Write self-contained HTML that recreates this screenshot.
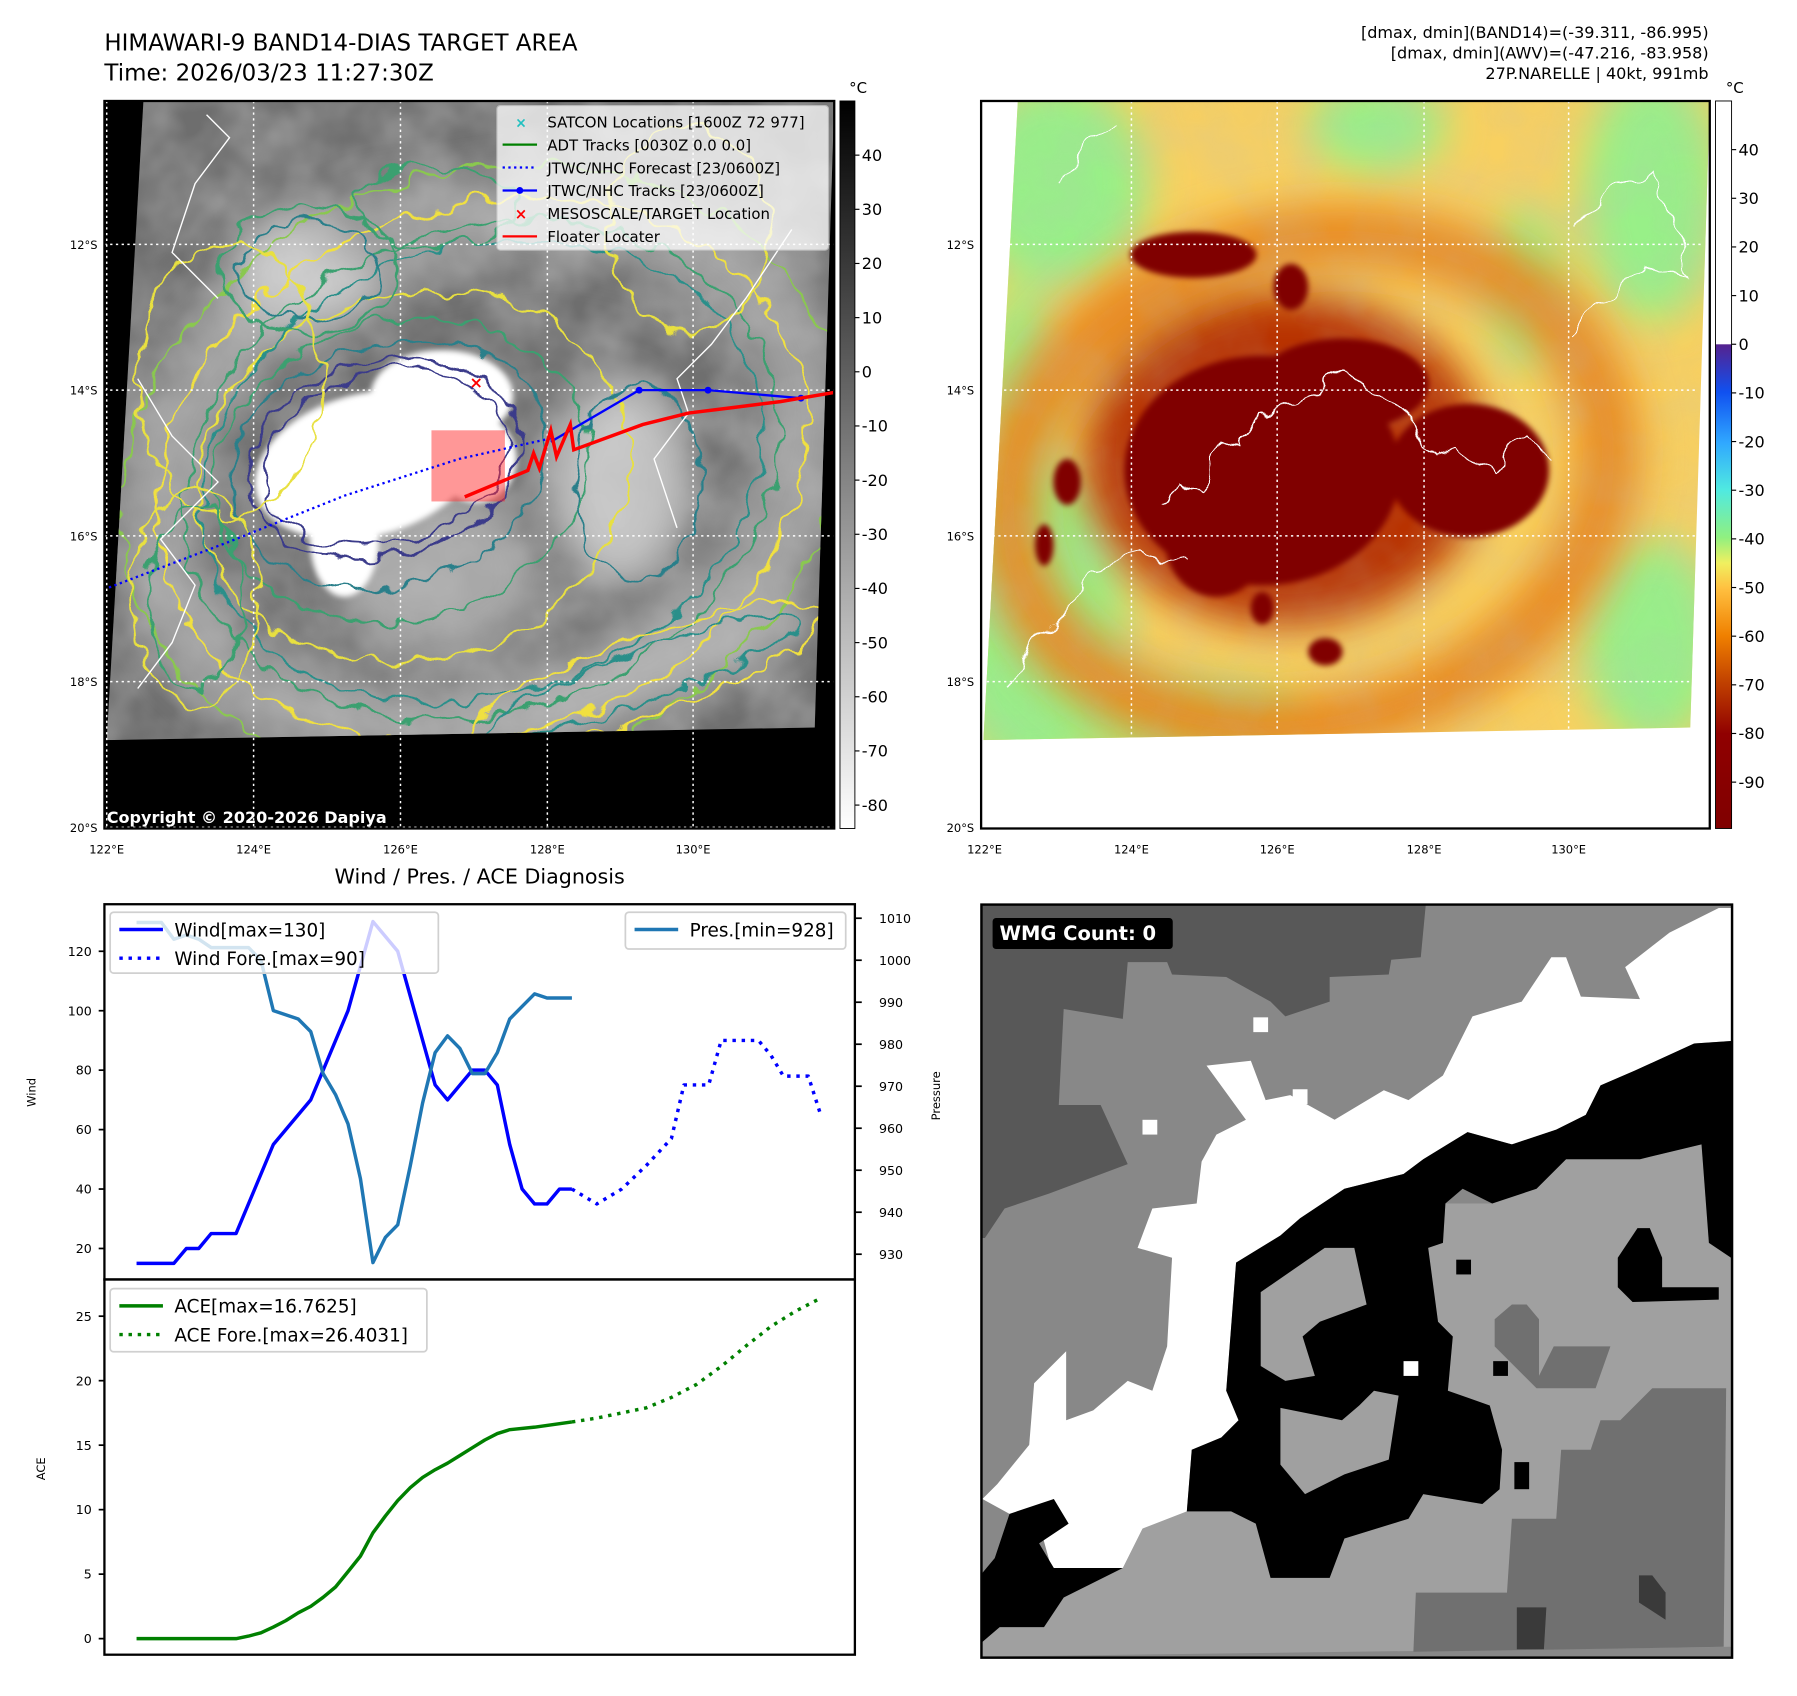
<!DOCTYPE html>
<html><head><meta charset="utf-8">
<style>
html,body{margin:0;padding:0;background:#fff;overflow:hidden;}
#wrap{position:absolute;left:0;top:0;width:1566px;height:1473px;transform:scale(1.1475);transform-origin:0 0;font-family:"Liberation Sans","DejaVu Sans",sans-serif;}
svg text{font-family:"DejaVu Sans","Liberation Sans",sans-serif;}
</style></head>
<body>
<div id="wrap">
<svg id="fig" width="1566" height="1473" viewBox="0 0 1566 1473" xmlns="http://www.w3.org/2000/svg">
<defs>
 <clipPath id="lq"><polygon points="125,88 727,88 710,634 93,645"/></clipPath>
 <clipPath id="rq"><polygon points="887,88 1490,88 1473,634 857,645"/></clipPath>
 <filter id="b20" x="-50%" y="-50%" width="200%" height="200%"><feGaussianBlur stdDeviation="18"/></filter>
 <filter id="b8" x="-50%" y="-50%" width="200%" height="200%"><feGaussianBlur stdDeviation="7"/></filter>
 <filter id="b3" x="-50%" y="-50%" width="200%" height="200%"><feGaussianBlur stdDeviation="2.5"/></filter>
 <filter id="wig" x="-20%" y="-20%" width="140%" height="140%">
  <feTurbulence type="fractalNoise" baseFrequency="0.045" numOctaves="2" seed="3" result="n"/>
  <feDisplacementMap in="SourceGraphic" in2="n" scale="22" xChannelSelector="R" yChannelSelector="G"/>
 </filter>
 <filter id="tex" x="0" y="0" width="100%" height="100%">
  <feTurbulence type="fractalNoise" baseFrequency="0.02" numOctaves="3" seed="7"/>
  <feColorMatrix type="matrix" values="0 0 0 0 0.5  0 0 0 0 0.5  0 0 0 0 0.5  0.9 0 0 0 -0.25"/>
 </filter>
 <linearGradient id="gcb" x1="0" y1="0" x2="0" y2="1"><stop offset="0" stop-color="#000"/><stop offset="1" stop-color="#fff"/></linearGradient>
 <linearGradient id="ccb" x1="0" y1="0" x2="0" y2="1">
  <stop offset="0" stop-color="#fff"/><stop offset="0.334" stop-color="#fff"/>
  <stop offset="0.335" stop-color="#55228f"/><stop offset="0.40" stop-color="#1050f0"/>
  <stop offset="0.47" stop-color="#30a8ff"/><stop offset="0.535" stop-color="#50eae0"/>
  <stop offset="0.60" stop-color="#90f080"/><stop offset="0.635" stop-color="#f0f060"/>
  <stop offset="0.67" stop-color="#ffc040"/><stop offset="0.735" stop-color="#f08000"/>
  <stop offset="0.80" stop-color="#c04000"/><stop offset="0.87" stop-color="#900000"/>
  <stop offset="1" stop-color="#800000"/></linearGradient>
</defs>

<!-- Titles -->
<text x="91" y="44" font-size="20">HIMAWARI-9 BAND14-DIAS TARGET AREA</text>
<text x="91" y="70" font-size="20">Time: 2026/03/23 11:27:30Z</text>
<text x="1489" y="33" font-size="14" text-anchor="end">[dmax, dmin](BAND14)=(-39.311, -86.995)</text>
<text x="1489" y="51" font-size="14" text-anchor="end">[dmax, dmin](AWV)=(-47.216, -83.958)</text>
<text x="1489" y="69" font-size="14" text-anchor="end">27P.NARELLE | 40kt, 991mb</text>

<!-- LEFT MAP -->
<g>
 <rect x="91" y="88" width="636" height="634" fill="#000"/>
 <g clip-path="url(#lq)">
  <rect x="80" y="80" width="660" height="580" fill="#6e6e6e"/>
  <g filter="url(#b20)">
   <ellipse cx="420" cy="410" rx="290" ry="215" transform="rotate(-20 420 410)" fill="none" stroke="#a0a0a0" stroke-width="70"/>
   <ellipse cx="270" cy="235" rx="70" ry="50" fill="#cfcfcf"/>
   <ellipse cx="540" cy="420" rx="60" ry="90" fill="#c8c8c8"/>
   <ellipse cx="360" cy="200" rx="80" ry="40" fill="#9a9a9a"/>
   <ellipse cx="560" cy="590" rx="160" ry="30" transform="rotate(-20 560 590)" fill="#b0b0b0"/>
   <ellipse cx="380" cy="500" rx="90" ry="70" fill="#a8a8a8"/>
  </g>
  <rect x="80" y="80" width="660" height="580" filter="url(#tex)"/>
  <g filter="url(#b3)" fill="#fff">
   <ellipse cx="320" cy="405" rx="100" ry="62" transform="rotate(-15 320 405)"/>
   <ellipse cx="385" cy="345" rx="62" ry="40"/>
   <ellipse cx="300" cy="470" rx="30" ry="50"/>
   <ellipse cx="415" cy="400" rx="35" ry="38"/>
  </g>
  <g fill="none" stroke-width="2" filter="url(#wig)">
   <ellipse cx="335" cy="400" rx="120" ry="85" transform="rotate(-15 335 400)" stroke="#3a3a8a"/>
   <ellipse cx="335" cy="400" rx="108" ry="75" transform="rotate(-15 335 400)" stroke="#3a3a8a"/>
   <ellipse cx="340" cy="405" rx="140" ry="105" transform="rotate(-15 340 405)" stroke="#2a7f8a"/>
   <ellipse cx="350" cy="410" rx="165" ry="130" transform="rotate(-15 350 410)" stroke="#3aa070"/>
   <ellipse cx="360" cy="415" rx="190" ry="160" transform="rotate(-15 360 415)" stroke="#e8e040"/>
   <ellipse cx="420" cy="410" rx="250" ry="195" transform="rotate(-20 420 410)" stroke="#2a8f8a"/>
   <ellipse cx="420" cy="410" rx="265" ry="210" transform="rotate(-20 420 410)" stroke="#3aa070"/>
   <ellipse cx="420" cy="410" rx="290" ry="230" transform="rotate(-20 420 410)" stroke="#f0e040"/>
   <ellipse cx="420" cy="410" rx="320" ry="260" transform="rotate(-20 420 410)" stroke="#8ac850"/>
   <ellipse cx="270" cy="235" rx="62" ry="42" stroke="#2a7f8a"/>
   <ellipse cx="270" cy="235" rx="78" ry="56" stroke="#3aa070"/>
   <ellipse cx="555" cy="420" rx="55" ry="85" stroke="#2a7f8a"/>
   <ellipse cx="560" cy="590" rx="165" ry="35" transform="rotate(-20 560 590)" stroke="#f0e040"/>
   <ellipse cx="560" cy="590" rx="145" ry="22" transform="rotate(-20 560 590)" stroke="#2a8f8a"/>
   <ellipse cx="200" cy="330" rx="80" ry="120" stroke="#e8e040"/>
   <ellipse cx="600" cy="200" rx="70" ry="90" stroke="#e8e040"/>
   <ellipse cx="170" cy="520" rx="40" ry="80" stroke="#3aa070"/>
   <ellipse cx="170" cy="520" rx="55" ry="95" stroke="#e8e040"/>
   <ellipse cx="380" cy="180" rx="70" ry="35" stroke="#3aa070"/>
  </g>
 </g>
 <g stroke="#fff" stroke-width="1.3" stroke-dasharray="2 3">
  <line x1="93" y1="88" x2="93" y2="722"/><line x1="221" y1="88" x2="221" y2="722"/><line x1="349" y1="88" x2="349" y2="722"/><line x1="477" y1="88" x2="477" y2="722"/><line x1="604" y1="88" x2="604" y2="722"/>
  <line x1="91" y1="213" x2="727" y2="213"/><line x1="91" y1="340" x2="727" y2="340"/><line x1="91" y1="467" x2="727" y2="467"/><line x1="91" y1="594" x2="727" y2="594"/><line x1="91" y1="721" x2="727" y2="721"/>
 </g>
 <polyline points="120,600 150,560 170,510 140,470 190,420 150,380 120,330" fill="none" stroke="#fff" stroke-width="1.2"/>
 <polyline points="180,100 200,120 170,160 150,220 190,260" fill="none" stroke="#fff" stroke-width="1.2"/>
 <polyline points="690,200 650,260 620,300 590,330 600,360 570,400 590,460" fill="none" stroke="#fff" stroke-width="1.2"/>
 <rect x="376" y="375" width="64" height="62" fill="#ff3030" opacity="0.5"/>
 <polyline points="95,512 200,472 300,432 400,400 480,382" fill="none" stroke="#0000ff" stroke-width="2" stroke-dasharray="2 3"/>
 <polyline points="480,385 557,340 617,340 698,347 727,342" fill="none" stroke="#0000ff" stroke-width="2"/>
 <circle cx="557" cy="340" r="3" fill="#0000ff"/><circle cx="617" cy="340" r="3" fill="#0000ff"/><circle cx="698" cy="347" r="3" fill="#0000ff"/>
 <polyline points="405,433 460,410 465,395 470,408 480,375 485,398 497,370 500,392 560,370 600,360 640,355 680,350 727,342" fill="none" stroke="#ff0000" stroke-width="3"/>
 <text x="415" y="338" font-size="14" fill="#ff0000" text-anchor="middle" font-weight="bold">×</text>
 <g>
  <rect x="433" y="92" width="289" height="126" rx="3" fill="#fff" opacity="0.75" stroke="#ccc"/>
  <text x="454" y="111" font-size="12" fill="#20c0c0" text-anchor="middle" font-weight="bold">×</text>
  <text x="477" y="111" font-size="13">SATCON Locations [1600Z 72 977]</text>
  <line x1="438" y1="126" x2="468" y2="126" stroke="#008000" stroke-width="2"/>
  <text x="477" y="131" font-size="13">ADT Tracks [0030Z 0.0 0.0]</text>
  <line x1="438" y1="146" x2="468" y2="146" stroke="#0000ff" stroke-width="2" stroke-dasharray="2 3"/>
  <text x="477" y="151" font-size="13">JTWC/NHC Forecast [23/0600Z]</text>
  <line x1="438" y1="166" x2="468" y2="166" stroke="#0000ff" stroke-width="2"/><circle cx="453" cy="166" r="3" fill="#0000ff"/>
  <text x="477" y="171" font-size="13">JTWC/NHC Tracks [23/0600Z]</text>
  <text x="454" y="191" font-size="13" fill="#ff0000" text-anchor="middle" font-weight="bold">×</text>
  <text x="477" y="191" font-size="13">MESOSCALE/TARGET Location</text>
  <line x1="438" y1="206" x2="468" y2="206" stroke="#ff0000" stroke-width="2"/>
  <text x="477" y="211" font-size="13">Floater Locater</text>
 </g>
 <text x="93" y="717" font-size="14" font-weight="bold" fill="#fff">Copyright © 2020-2026 Dapiya</text>
 <rect x="91" y="88" width="636" height="634" fill="none" stroke="#000" stroke-width="2"/>
</g>
<g font-size="10">
 <text x="85" y="217" text-anchor="end">12°S</text><text x="85" y="344" text-anchor="end">14°S</text><text x="85" y="471" text-anchor="end">16°S</text><text x="85" y="598" text-anchor="end">18°S</text><text x="85" y="725" text-anchor="end">20°S</text>
 <text x="93" y="744" text-anchor="middle">122°E</text><text x="221" y="744" text-anchor="middle">124°E</text><text x="349" y="744" text-anchor="middle">126°E</text><text x="477" y="744" text-anchor="middle">128°E</text><text x="604" y="744" text-anchor="middle">130°E</text>
</g>
<g>
 <rect x="732" y="88" width="13" height="634" fill="url(#gcb)" stroke="#000" stroke-width="0.8"/>
 <text x="740" y="81" font-size="13">°C</text>
 <g font-size="14" id="lcbl"></g>
</g>

<!-- RIGHT MAP -->
<g>
 <rect x="855" y="88" width="635" height="634" fill="#fff"/>
 <g clip-path="url(#rq)">
  <rect x="850" y="80" width="650" height="580" fill="#f8d060"/>
  <g filter="url(#b20)" fill="#98f088">
   <ellipse cx="900" cy="540" rx="80" ry="140"/>
   <ellipse cx="920" cy="160" rx="80" ry="90"/>
   <ellipse cx="1440" cy="170" rx="60" ry="110"/>
   <ellipse cx="1440" cy="560" rx="60" ry="90"/>
   <ellipse cx="1000" cy="625" rx="140" ry="30"/>
   <ellipse cx="1200" cy="110" rx="60" ry="40"/>
   <ellipse cx="1330" cy="250" rx="30" ry="70"/>
   <ellipse cx="890" cy="330" rx="30" ry="80"/>
  </g>
  <g filter="url(#b20)">
   <ellipse cx="1140" cy="420" rx="265" ry="210" transform="rotate(-15 1140 420)" fill="none" stroke="#e88a20" stroke-width="55"/>
   <ellipse cx="1120" cy="400" rx="175" ry="145" fill="#b83000"/>
  </g>
  <rect x="850" y="80" width="650" height="580" filter="url(#tex)" opacity="0.35"/>
  <g filter="url(#b3)" fill="#800000">
   <ellipse cx="1100" cy="410" rx="120" ry="100"/>
   <ellipse cx="1170" cy="335" rx="75" ry="40"/>
   <ellipse cx="1280" cy="410" rx="70" ry="58"/>
   <ellipse cx="1060" cy="470" rx="45" ry="50"/>
   <ellipse cx="1040" cy="222" rx="55" ry="20"/>
   <ellipse cx="1125" cy="250" rx="15" ry="20"/>
   <ellipse cx="1155" cy="568" rx="15" ry="12"/>
   <ellipse cx="1100" cy="530" rx="10" ry="14"/>
   <ellipse cx="930" cy="420" rx="12" ry="20"/>
   <ellipse cx="910" cy="475" rx="8" ry="18"/>
  </g>
 </g>
 <g stroke="#fff" stroke-width="1.3" stroke-dasharray="2 3">
  <line x1="986" y1="88" x2="986" y2="640"/><line x1="1113" y1="88" x2="1113" y2="638"/><line x1="1241" y1="88" x2="1241" y2="636"/><line x1="1367" y1="88" x2="1367" y2="635"/>
  <line x1="880" y1="213" x2="1485" y2="213"/><line x1="870" y1="340" x2="1480" y2="340"/><line x1="865" y1="467" x2="1478" y2="467"/><line x1="860" y1="594" x2="1475" y2="594"/>
 </g>
 <g fill="none" stroke="#fff" stroke-width="1.2" filter="url(#wig)">
  <polyline points="1010,440 1030,420 1050,430 1060,380 1080,390 1100,360 1130,350 1170,320 1190,340 1230,360 1250,400 1270,390 1300,410 1330,380 1350,400"/>
  <polyline points="880,600 900,560 930,530 960,490 990,480 1030,490"/>
  <polyline points="1370,200 1400,170 1440,150 1460,200 1470,240 1430,230 1400,260 1370,290"/>
  <polyline points="920,160 945,130 970,110"/>
 </g>
 <rect x="855" y="88" width="635" height="634" fill="none" stroke="#000" stroke-width="2"/>
</g>
<g font-size="10">
 <text x="849" y="217" text-anchor="end">12°S</text><text x="849" y="344" text-anchor="end">14°S</text><text x="849" y="471" text-anchor="end">16°S</text><text x="849" y="598" text-anchor="end">18°S</text><text x="849" y="725" text-anchor="end">20°S</text>
 <text x="858" y="744" text-anchor="middle">122°E</text><text x="986" y="744" text-anchor="middle">124°E</text><text x="1113" y="744" text-anchor="middle">126°E</text><text x="1241" y="744" text-anchor="middle">128°E</text><text x="1367" y="744" text-anchor="middle">130°E</text>
</g>
<g>
 <rect x="1495" y="88" width="14" height="634" fill="url(#ccb)" stroke="#000" stroke-width="0.8"/>
 <text x="1504" y="81" font-size="13">°C</text>
 <g font-size="14" id="rcbl"></g>
</g>

<!-- BOTTOM LEFT CHART -->
<text x="418" y="770" font-size="18" text-anchor="middle">Wind / Pres. / ACE Diagnosis</text>
<g id="chart"></g>

<!-- BOTTOM RIGHT WMG -->
<g>
 <svg x="854" y="787" width="661" height="661" viewBox="0 0 1540 1540">
  <rect x="5" y="5" width="1520" height="1525" fill="#888"/>
  <polygon fill="#585858" points="5,5 905,5 895,110 835,115 830,145 710,150 710,200 620,230 590,200 500,150 390,145 380,120 300,120 290,235 170,215 160,410 245,410 300,530 140,590 50,620 10,680 5,680"/>
  <polygon fill="#a0a0a0" points="945,610 1040,610 1130,580 1190,520 1340,520 1465,490 1480,690 1525,720 1525,1510 5,1530 5,1500 40,1470 130,1470 170,1410 230,1380 290,1350 330,1270 420,1235 510,1235 560,1260 590,1370 710,1370 740,1290 870,1250 900,1200 1020,1220 1055,1190 1060,1110 1035,1020 950,990 960,880 930,850 910,700 940,690"/>
  <polygon fill="#fff" points="1500,10 1525,10 1525,280 1450,285 1330,340 1260,370 1230,430 1170,460 1080,490 990,465 900,520 860,550 740,580 650,640 610,675 520,730 500,990 525,1050 490,1085 430,1110 420,1235 330,1270 290,1350 145,1350 120,1260 60,1240 5,1210 35,1180 100,1100 110,975 175,910 175,1050 230,1030 300,970 350,990 380,900 390,720 320,700 350,620 440,610 450,525 480,470 540,440 460,330 550,320 580,400 630,390 720,440 820,380 870,400 940,350 970,290 1000,230 1100,200 1160,110 1190,110 1220,190 1340,195 1310,130 1400,60"/>
  <polygon fill="#000" points="1450,285 1525,280 1525,720 1480,690 1465,490 1340,520 1190,520 1130,580 1040,610 980,580 945,610 940,690 910,700 930,850 960,880 950,990 1035,1020 1060,1110 1055,1190 1020,1220 900,1200 870,1250 740,1290 710,1370 590,1370 560,1260 510,1235 420,1235 430,1110 490,1085 525,1050 500,990 520,730 610,675 650,640 740,580 860,550 900,520 990,465 1080,490 1170,460 1230,430 1260,370 1330,340"/>
  <polygon fill="#000" points="5,1360 30,1330 60,1240 150,1210 180,1260 120,1300 150,1350 290,1350 230,1380 170,1410 130,1470 40,1470 5,1500"/>
  <polygon fill="#a0a0a0" points="570,790 700,700 760,700 785,815 690,850 655,880 680,960 620,970 570,940"/>
  <polygon fill="#a0a0a0" points="610,1025 735,1050 770,1020 800,990 850,1000 830,1130 740,1160 660,1200 610,1140"/>
  <polygon fill="#000" points="1295,720 1335,660 1360,660 1385,720 1385,780 1500,780 1500,805 1325,810 1295,780"/>
  <polygon fill="#707070" points="1300,1050 1365,985 1515,985 1510,1510 880,1520 885,1400 1070,1400 1080,1250 1170,1250 1180,1110 1240,1110 1260,1050"/>
  <polygon fill="#707070" points="1045,845 1080,815 1110,815 1135,845 1135,960 1165,900 1280,900 1250,985 1130,985 1100,955 1045,900"/>
  <polygon fill="#3a3a3a" points="1090,1430 1150,1430 1145,1515 1090,1515"/>
  <polygon fill="#3a3a3a" points="1338,1365 1365,1365 1392,1400 1392,1455 1338,1420"/>
  <rect x="860" y="930" width="30" height="30" fill="#fff"/><rect x="555" y="232" width="30" height="30" fill="#fff"/><rect x="330" y="440" width="30" height="30" fill="#fff"/><rect x="635" y="378" width="30" height="30" fill="#fff"/>
  <rect x="1042" y="930" width="30" height="30" fill="#000"/><rect x="967" y="724" width="30" height="30" fill="#000"/><rect x="1085" y="1135" width="30" height="55" fill="#000"/>
  <rect x="3" y="3" width="1524" height="1529" fill="none" stroke="#000" stroke-width="5"/>
 </svg>
 <rect x="865" y="800" width="157" height="27" rx="3" fill="#000"/>
 <text x="871" y="819" font-size="17" font-weight="bold" fill="#fff">WMG Count: 0</text>
</g>
</svg>
</div>

<script>
// ---- chart data ----
var windIdx = [0,3,4,5,6,8,11,14,17,19,21,24,25,27,28,29,30,31,32,33,34,35];
var windVal = [15,15,20,20,25,25,55,70,100,130,120,75,70,80,80,75,55,40,35,35,40,40];
var windForeIdx = [35,37,39,41,43,44,46,47,50,51,52,54,55];
var windForeVal = [40,35,40,48,57,75,75,90,90,85,78,78,65];
var presIdx = [0,2,3,4,5,6,9,10,11,13,14,15,16,17,18,19,20,21,22,23,24,25,26,27,28,29,30,31,32,33,35];
var presVal = [1009,1009,1005,1006,1005,1003,1003,1000,988,986,983,973,968,961,948,928,934,937,951,966,978,982,979,973,973,978,986,989,992,991,991];
var aceIdx = [0,8,9,10,11,12,13,14,15,16,17,18,19,20,21,22,23,24,25,26,27,28,29,30,32,35];
var aceVal = [0,0,0.2,0.45,0.9,1.4,2.0,2.5,3.2,4.0,5.2,6.4,8.2,9.5,10.7,11.7,12.5,13.1,13.6,14.2,14.8,15.4,15.9,16.2,16.4,16.8];
var aceForeIdx = [35,37,39,41,43,45,47,49,51,53,55];
var aceForeVal = [16.8,17.1,17.5,17.9,18.7,19.7,21.1,22.7,24.2,25.4,26.4];
var windTicks = [20,40,60,80,100,120];
var presTicks = [930,940,950,960,970,980,990,1000,1010];
var aceTicks = [0,5,10,15,20,25];
var irCbTicks = [40,30,20,10,0,-10,-20,-30,-40,-50,-60,-70,-80];
var awvCbTicks = [40,30,20,10,0,-10,-20,-30,-40,-50,-60,-70,-80,-90];

var NS = 'http://www.w3.org/2000/svg';
function xOf(i){ return 119 + i*10.84; }
function yW(v){ return 1088 - (v-20)*2.59; }
function yP(p){ return 1093 - (p-930)*3.66; }
function yA(a){ return 1428 - a*11.24; }
function yIR(t){ return 324 - t*4.72; }
function yAWV(t){ return 300 - t*4.24; }

function mk(tag, attrs, parent){
  var e = document.createElementNS(NS, tag);
  for (var k in attrs) e.setAttribute(k, attrs[k]);
  parent.appendChild(e); return e;
}
function txt(x,y,s,size,anchor,parent){
  var t = mk('text',{x:x,y:y,'font-size':size,'text-anchor':anchor},parent);
  t.textContent = s; return t;
}
function line(idx, vals, yf, color, dash, name, parent){
  var d = '';
  for (var i=0;i<idx.length;i++) d += (i?'L':'M') + xOf(idx[i]).toFixed(1) + ',' + yf(vals[i]).toFixed(1);
  var p = mk('path',{d:d,fill:'none',stroke:color,'stroke-width':3,'stroke-linejoin':'round'},parent);
  if (dash) p.setAttribute('stroke-dasharray', dash);
  
  
  return p;
}

var chart = document.getElementById('chart');
var f1 = mk('rect',{x:91,y:788,width:654,height:327,fill:'none',stroke:'#000','stroke-width':2},chart);


var f2 = mk('rect',{x:91,y:1115,width:654,height:327,fill:'none',stroke:'#000','stroke-width':2},chart);



windTicks.forEach(function(v){
  mk('line',{x1:86,y1:yW(v),x2:91,y2:yW(v),stroke:'#000','stroke-width':1.5},chart);
  var t = txt(80, yW(v)+4, String(v), 11, 'end', chart);
  
  
});
presTicks.forEach(function(v){
  mk('line',{x1:745,y1:yP(v),x2:751,y2:yP(v),stroke:'#000','stroke-width':1.5},chart);
  var t = txt(766, yP(v)+4, String(v), 11, 'start', chart);
  
  
});
aceTicks.forEach(function(v){
  mk('line',{x1:86,y1:yA(v),x2:91,y2:yA(v),stroke:'#000','stroke-width':1.5},chart);
  var t = txt(80, yA(v)+4, String(v), 11, 'end', chart);
  
  
});
var yl1 = txt(0,0,'Wind',10,'middle',chart);
yl1.setAttribute('transform','translate(31,952) rotate(-90)');


var yl2 = txt(0,0,'Pressure',10,'middle',chart);
yl2.setAttribute('transform','translate(819,955) rotate(-90)');


var yl3 = txt(0,0,'ACE',10,'middle',chart);
yl3.setAttribute('transform','translate(39,1280) rotate(-90)');



line(windIdx, windVal, yW, '#0000ff', null, 'wind-line', chart);
line(windForeIdx, windForeVal, yW, '#0000ff', '3 5', 'wind-forecast-line', chart);
line(presIdx, presVal, yP, '#1f77b4', null, 'pressure-line', chart);
line(aceIdx, aceVal, yA, '#008000', null, 'ace-line', chart);
line(aceForeIdx, aceForeVal, yA, '#008000', '3 5', 'ace-forecast-line', chart);

function legend(x,y,w,h,items,name){
  var g = mk('g',{},chart);
  
  
  mk('rect',{x:x,y:y,width:w,height:h,rx:3,fill:'#fff','fill-opacity':0.8,stroke:'#d0d0d0','stroke-width':1.5},g);
  items.forEach(function(it,k){
    var yy = y + 15 + k*25;
    var l = mk('line',{x1:x+8,y1:yy,x2:x+46,y2:yy,stroke:it.c,'stroke-width':3},g);
    if (it.d) l.setAttribute('stroke-dasharray', it.d);
    txt(x+56, yy+6, it.t, 16, 'start', g);
  });
}
legend(96,795,286,53,[{c:'#0000ff',t:'Wind[max=130]'},{c:'#0000ff',d:'3 5',t:'Wind Fore.[max=90]'}],'wind-legend');
legend(545,795,192,32,[{c:'#1f77b4',t:'Pres.[min=928]'}],'pressure-legend');
legend(96,1123,276,55,[{c:'#008000',t:'ACE[max=16.7625]'},{c:'#008000',d:'3 5',t:'ACE Fore.[max=26.4031]'}],'ace-legend');

var lcb = document.getElementById('lcbl');
irCbTicks.forEach(function(v){
  mk('line',{x1:745,y1:yIR(v),x2:749,y2:yIR(v),stroke:'#000'},lcb);
  var t = txt(751, yIR(v)+5, String(v), 14, 'start', lcb);
  
  
});
var rcb = document.getElementById('rcbl');
awvCbTicks.forEach(function(v){
  mk('line',{x1:1509,y1:yAWV(v),x2:1513,y2:yAWV(v),stroke:'#000'},rcb);
  var t = txt(1515, yAWV(v)+5, String(v), 14, 'start', rcb);
  
  
});
</script>
</body></html>
